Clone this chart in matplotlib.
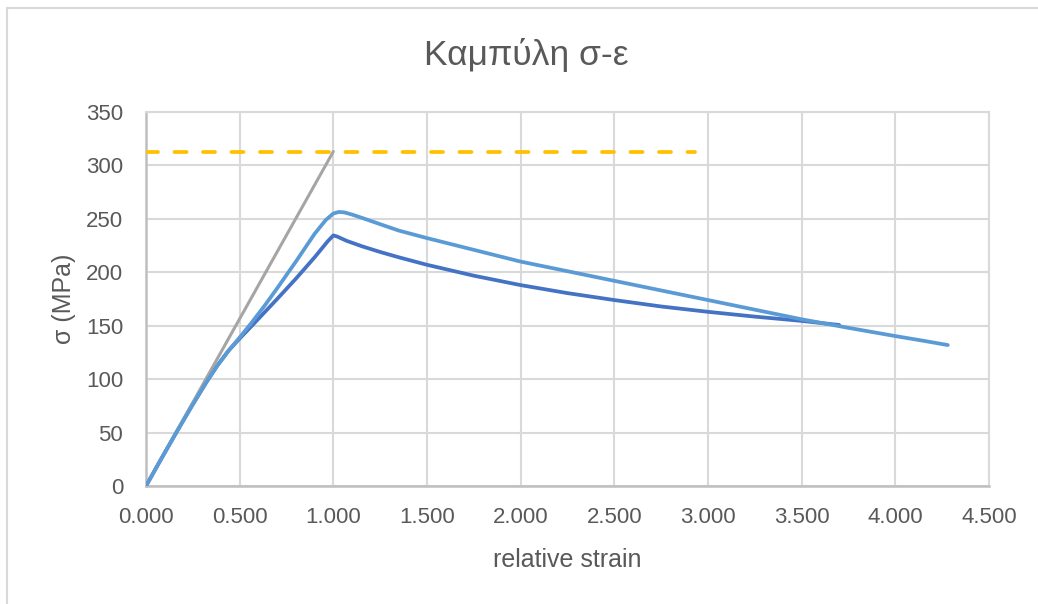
import matplotlib
matplotlib.use("Agg")
import matplotlib.pyplot as plt
from matplotlib.lines import Line2D
from matplotlib.ticker import FuncFormatter, MultipleLocator

plt.rcParams['font.family'] = ['Liberation Sans', 'DejaVu Sans']

# Stress-strain curves (relative strain, stress in MPa)
strain_a = [0.00, 0.08, 0.16, 0.24, 0.32, 0.38, 0.44, 0.50, 0.56, 0.63, 0.70, 0.80,
            0.90, 0.97, 1.00, 1.02, 1.07, 1.15, 1.25, 1.35, 1.50, 1.75, 2.00, 2.25,
            2.50, 2.75, 3.00, 3.25, 3.50, 3.70]
stress_a = [0.0, 25.0, 49.5, 73.5, 96.5, 112.5, 126.5, 138.0, 149.0, 162.0, 175.0, 194.0,
            214.0, 229.0, 234.5, 233.5, 229.5, 224.5, 219.0, 214.0, 207.0, 196.8, 188.0, 180.5,
            174.0, 168.0, 163.0, 158.5, 154.5, 150.7]

strain_b = [0.00, 0.08, 0.16, 0.24, 0.32, 0.38, 0.44, 0.50, 0.56, 0.63, 0.70, 0.80,
            0.90, 0.96, 1.00, 1.03, 1.06, 1.10, 1.16, 1.25, 1.35, 1.50, 1.75, 2.00,
            2.25, 2.50, 2.75, 3.00, 3.25, 3.50, 3.75, 4.00, 4.15, 4.28]
stress_b = [0.0, 25.0, 49.5, 73.5, 96.5, 112.5, 126.5, 139.0, 152.0, 168.0, 185.0, 210.0,
            236.0, 249.0, 255.0, 256.5, 256.0, 254.0, 250.5, 245.0, 239.0, 232.0, 221.0, 210.0,
            201.0, 192.0, 183.0, 174.0, 165.0, 156.0, 148.0, 140.3, 135.9, 131.9]

# Elastic line and yield level
elastic_strain = [0.0, 1.0]
elastic_stress = [0.0, 313.0]
yield_strain = [0.0, 2.93]
yield_stress = [313.0, 313.0]

title = "Καμπύλη σ-ε"
xlabel = "relative strain"
ylabel = "σ (MPa)"

text_color = "#595959"
grid_color = "#d9d9d9"

fig = plt.figure(figsize=(10.38, 6.04), dpi=100)
ax = fig.add_axes([146 / 1038, 1 - 486 / 604, (989 - 146) / 1038, (486 - 112) / 604])

lw = 2.7
ax.plot(strain_a, stress_a, color="#4472C4", lw=lw, zorder=3,
        solid_capstyle="round", solid_joinstyle="round")
ax.plot(elastic_strain, elastic_stress, color="#A5A5A5", lw=2.2, zorder=4,
        solid_capstyle="round")
ax.plot(yield_strain, yield_stress, color="#FFC000", lw=lw, zorder=5,
        dashes=(3.2, 4.4), dash_capstyle="round")
ax.plot(strain_b, stress_b, color="#5B9BD5", lw=lw, zorder=6,
        solid_capstyle="round", solid_joinstyle="round")

ax.set_xlim(0, 4.5)
ax.set_ylim(0, 350)
ax.xaxis.set_major_locator(MultipleLocator(0.5))
ax.yaxis.set_major_locator(MultipleLocator(50))
ax.xaxis.set_major_formatter(FuncFormatter(lambda v, p: f"{v:.3f}"))
ax.yaxis.set_major_formatter(FuncFormatter(lambda v, p: f"{v:.0f}"))

ax.grid(True, color=grid_color, lw=1.5, zorder=0)
ax.set_axisbelow(True)
for side in ("top", "right"):
    ax.spines[side].set_color(grid_color)
    ax.spines[side].set_linewidth(1.5)
for side in ("left", "bottom"):
    ax.spines[side].set_color("#bfbfbf")
    ax.spines[side].set_linewidth(1.8)

ax.tick_params(axis="both", length=0, labelsize=16, labelcolor=text_color)
ax.tick_params(axis="x", pad=15)
ax.tick_params(axis="y", pad=16.5)

ax.set_xlabel(xlabel, fontsize=18, color=text_color, va="center")
ax.xaxis.set_label_coords(0.5, (486 - 560) / 374)
ax.set_ylabel(ylabel, fontsize=18, color=text_color, va="center")
ax.yaxis.set_label_coords((63.5 - 146) / 843, 0.5)
fig.text(526.5 / 1038, 1 - 55 / 604, title, ha="center", va="center",
         fontsize=25.5, color=text_color)

# Chart frame edges
fig.add_artist(Line2D([7 / 1038, 7 / 1038], [0, 1 - 8 / 604], transform=fig.transFigure,
                      color=grid_color, lw=1.5))
fig.add_artist(Line2D([7 / 1038, 1], [1 - 8 / 604, 1 - 8 / 604], transform=fig.transFigure,
                      color=grid_color, lw=1.5))

fig.savefig("out.png", dpi=100, facecolor="white")
